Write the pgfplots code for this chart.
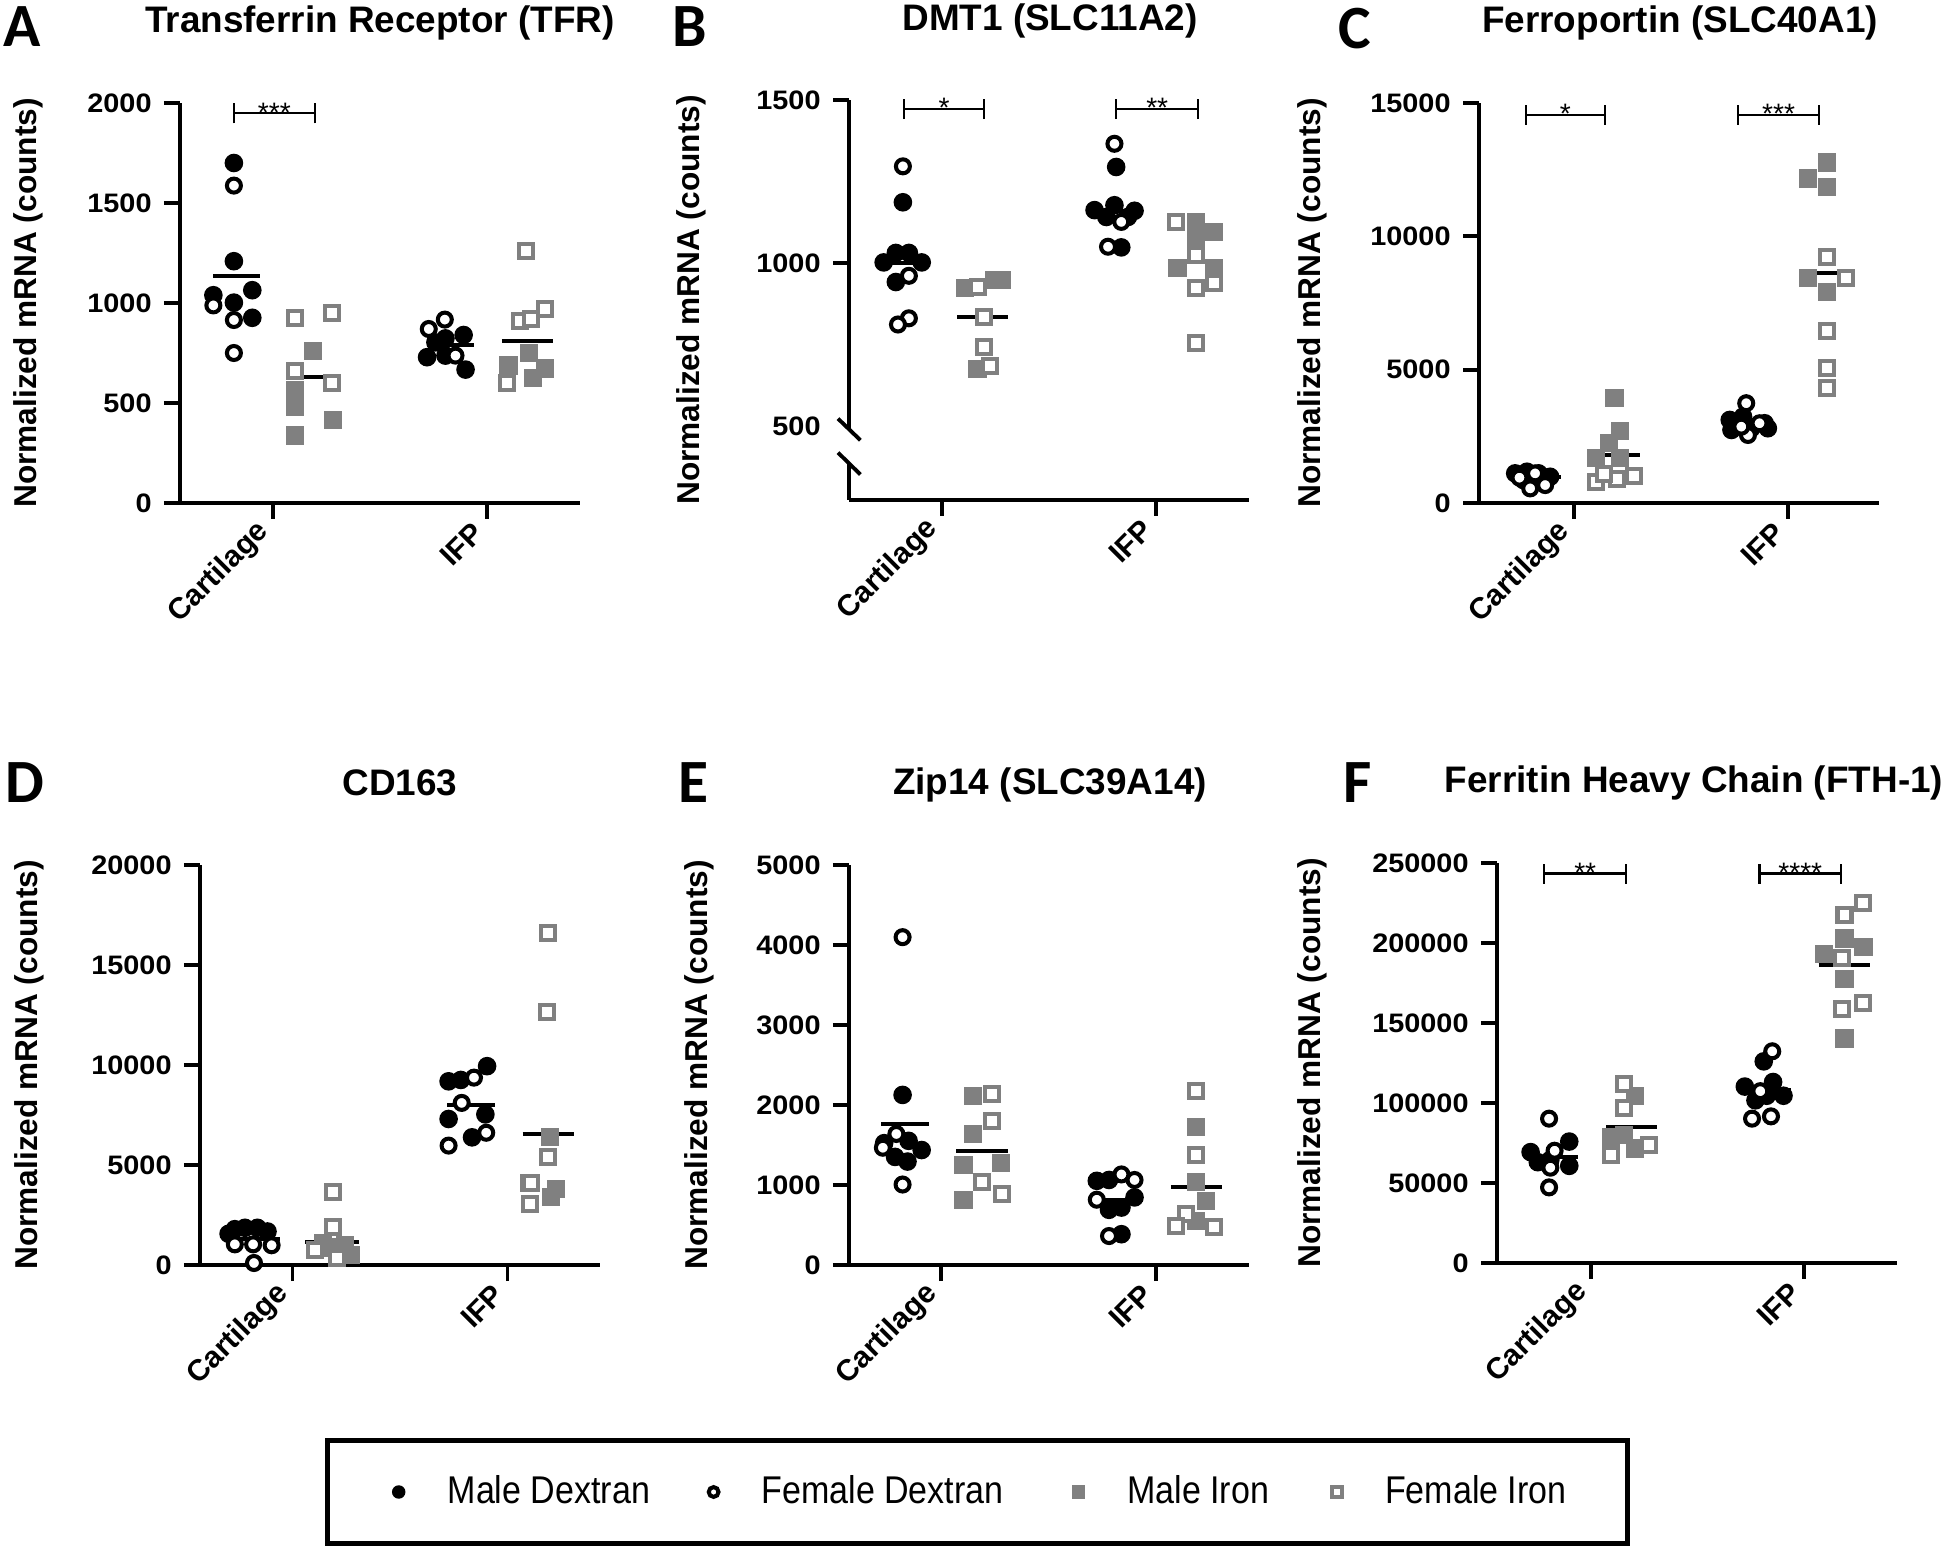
\documentclass[border=0pt]{standalone}
\usepackage{fontspec}
\setmainfont{Liberation Sans}
\newfontfamily\letterfont{Carlito}
\newfontfamily\legfont{Liberation Sans}[FakeStretch=0.88]
\newfontfamily\tickfont{Liberation Sans}[FakeStretch=1.08]
\usepackage{pgfplots}
\pgfplotsset{compat=1.18}
\definecolor{irongray}{RGB}{128,128,128}

\pgfplotsset{
  panel/.style={
    scale only axis, width=40mm, height=40mm, clip=false,
    axis x line*=bottom, axis y line*=left,
    axis line style={line width=1.1pt, black},
    tick style={black, line width=1.1pt},
    major tick length=1.6mm, tick align=outside,
    xtick={1,2}, xticklabels={Cartilage,IFP},
    xticklabel style={rotate=45, anchor=east, font=\bfseries\fontsize{8.5}{10}\selectfont},
    yticklabel style={font=\tickfont\bfseries\fontsize{7.6}{9}\selectfont},
    /pgf/number format/assume math mode=true,
    /pgf/number format/fixed,
    /pgf/number format/precision=0,
    /pgf/number format/1000 sep={},
    scaled y ticks=false,
    ylabel={Normalized mRNA (counts)},
    ylabel style={font=\bfseries\fontsize{9}{11}\selectfont, anchor=center},
  },
  MD/.style={only marks, mark=*, mark size=0.86mm, mark options={draw=black, fill=black, line width=0.4pt}},
  FD/.style={only marks, mark=*, mark size=0.7mm, mark options={draw=black, fill=white, line width=1.15pt}},
  MI/.style={only marks, mark=square*, mark size=0.84mm, mark options={draw=irongray, fill=irongray, line width=0.4pt}},
  FI/.style={only marks, mark=square*, mark size=0.7mm, mark options={draw=irongray, fill=white, line width=1.15pt}},
  mean/.style={black, line width=1.1pt, forget plot, mark=none},
}
\newcommand{\sig}[5]{% x1, x2, xmid, y, label
  \draw[line width=0.6pt] (axis cs:#1,#4) -- (axis cs:#2,#4);
  \draw[line width=0.6pt] ([yshift=-1mm]axis cs:#1,#4) -- ([yshift=1mm]axis cs:#1,#4);
  \draw[line width=0.6pt] ([yshift=-1mm]axis cs:#2,#4) -- ([yshift=1mm]axis cs:#2,#4);
  \node[anchor=base, inner sep=0pt, yshift=-0.86mm, font=\fontsize{8}{9}\selectfont] at (axis cs:#3,#4) {#5};
}

\begin{document}
\begin{tikzpicture}
\useasboundingbox (0,0) rectangle (195mm,155.5mm);

% ---------------- A ----------------
\begin{axis}[panel, at={(18.0mm,105.2mm)}, anchor=south west,
  xmin=0.565, xmax=2.435, ymin=0, ymax=2000, ytick={0,500,1000,1500,2000},
  ylabel style={at={(axis description cs:-0.378,0.5)}}]
\addplot[MD] coordinates {(0.817,1700) (0.817,1209) (0.721,1039) (0.817,1002) (0.903,1064) (0.903,926)
  (1.759,803) (1.806,823) (1.891,840) (1.720,729) (1.806,737) (1.900,667)};
\addplot[FD] coordinates {(0.817,1587) (0.721,988) (0.817,915) (0.817,750)
  (1.728,870) (1.803,917) (1.853,737)};
\addplot[MI] coordinates {(1.185,760) (1.103,564) (1.103,481) (1.103,337) (1.281,415)
  (2.101,688) (2.197,750) (2.273,673) (2.216,626)};
\addplot[FI] coordinates {(1.103,925) (1.276,952) (1.103,661) (1.276,601)
  (2.183,1260) (2.273,971) (2.153,909) (2.206,919) (2.095,599)};
\addplot[mean] coordinates {(0.72,1134) (0.94,1134)};
\addplot[mean] coordinates {(1.07,630) (1.31,630)};
\addplot[mean] coordinates {(1.72,791) (1.94,791)};
\addplot[mean] coordinates {(2.07,812) (2.31,812)};
\sig{0.817}{1.195}{1.006}{1948}{***}
\end{axis}

% ---------------- B ----------------
\begin{axis}[panel, at={(84.9mm,105.5mm)}, anchor=south west,
  xmin=0.565, xmax=2.435, ymin=276, ymax=1500, ytick={1000,1500},
  extra y ticks={500}, extra y tick style={major tick style={draw=none}},
  ylabel style={at={(axis description cs:-0.395,0.5)}}]
\addplot[MD] coordinates {(0.817,1187) (0.727,1003) (0.784,1032) (0.845,1032) (0.905,1003) (0.784,943)
  (1.814,1295) (1.713,1163) (1.806,1178) (1.900,1161) (1.768,1142) (1.869,1142) (1.838,1049)};
\addplot[FD] coordinates {(0.817,1297) (0.845,962) (0.845,832) (0.794,813)
  (1.806,1366) (1.838,1127) (1.776,1051)};
\addplot[MI] coordinates {(1.109,924) (1.242,949) (1.281,949) (1.166,677)
  (2.187,1127) (2.273,1095) (2.187,1072) (2.101,987) (2.273,987)};
\addplot[FI] coordinates {(1.166,928) (1.195,835) (1.195,743) (1.223,687)
  (2.092,1127) (2.187,1025) (2.187,924) (2.273,939) (2.187,757)};
\addplot[mean] coordinates {(0.72,1000) (0.94,1000)};
\addplot[mean] coordinates {(1.07,835) (1.31,835)};
\addplot[mean] coordinates {(1.72,1160) (1.94,1160)};
\addplot[mean] coordinates {(2.07,1004) (2.31,1004)};
\sig{0.823}{1.195}{1.009}{1472}{*}
\sig{1.815}{2.197}{2.006}{1472}{**}
\draw[white, line width=3pt] (axis cs:0.565,491) -- (axis cs:0.565,386);
\draw[black, line width=1.1pt] ([xshift=-1.1mm]axis cs:0.565,525) -- ([xshift=1.14mm]axis cs:0.565,459);
\draw[black, line width=1.1pt] ([xshift=-1.1mm]axis cs:0.565,421) -- ([xshift=1.14mm]axis cs:0.565,354);
\end{axis}

% ---------------- C ----------------
\begin{axis}[panel, at={(147.9mm,105.2mm)}, anchor=south west,
  xmin=0.556, xmax=2.424, ymin=0, ymax=15000, ytick={0,5000,10000,15000},
  ylabel style={at={(axis description cs:-0.4175,0.5)}}]
\addplot[MD] coordinates {(0.725,1111) (0.780,1172) (0.834,1111) (0.888,984) (0.764,860)
  (1.727,3114) (1.789,3239) (1.890,2990) (1.735,2739) (1.828,2803) (1.905,2803)};
\addplot[FD] coordinates {(0.795,548) (0.865,672) (0.818,1111) (0.745,950)
  (1.804,3742) (1.812,2551) (1.866,2990) (1.781,2863)};
\addplot[MI] coordinates {(1.189,3941) (1.214,2695) (1.163,2259) (1.101,1682) (1.214,1682)
  (2.181,12772) (2.093,12165) (2.181,11838) (2.093,8427) (2.181,7913)};
\addplot[FI] coordinates {(1.101,794) (1.202,903) (1.280,1012) (1.140,1100)
  (2.181,9237) (2.268,8427) (2.181,6433) (2.181,5062) (2.181,4330)};
\addplot[mean] coordinates {(0.72,990) (0.94,990)};
\addplot[mean] coordinates {(1.10,1791) (1.31,1791)};
\addplot[mean] coordinates {(1.72,2928) (1.94,2928)};
\addplot[mean] coordinates {(2.07,8614) (2.30,8614)};
\sig{0.774}{1.144}{0.959}{14564}{*}
\sig{1.767}{2.142}{1.955}{14564}{***}
\end{axis}

% ---------------- D ----------------
\begin{axis}[panel, at={(20.0mm,29.0mm)}, anchor=south west,
  xmin=0.570, xmax=2.430, ymin=0, ymax=20000, ytick={0,5000,10000,15000,20000},
  ylabel style={at={(axis description cs:-0.4275,0.5)}}]
\addplot[MD] coordinates {(0.732,1791) (0.779,1860) (0.837,1860) (0.884,1676) (0.703,1561)
  (1.726,9184) (1.783,9253) (1.905,9942) (1.726,7301) (1.897,7531) (1.835,6383)};
\addplot[FD] coordinates {(0.732,1033) (0.817,1033) (0.903,987) (0.821,100)
  (1.844,9368) (1.787,8105) (1.726,5970) (1.901,6613)};
\addplot[MI] coordinates {(1.141,1102) (1.188,872) (1.245,987) (1.274,482)
  (2.196,6383) (2.101,4087) (2.224,3788) (2.202,3398)};
\addplot[FI] coordinates {(1.188,3628) (1.188,1906) (1.103,758) (1.207,344)
  (2.186,16600) (2.183,12651) (2.186,5396) (2.110,4087) (2.106,3054)};
\addplot[mean] coordinates {(0.72,1320) (0.94,1320)};
\addplot[mean] coordinates {(1.06,1171) (1.31,1171)};
\addplot[mean] coordinates {(1.72,7990) (1.94,7990)};
\addplot[mean] coordinates {(2.07,6567) (2.31,6567)};
\end{axis}

% ---------------- E ----------------
\begin{axis}[panel, at={(84.9mm,29.0mm)}, anchor=south west,
  xmin=0.569, xmax=2.435, ymin=0, ymax=5000, ytick={0,1000,2000,3000,4000,5000},
  ylabel style={at={(axis description cs:-0.375,0.5)}},
  legend columns=4,
  legend image code/.code={\draw[#1, every mark/.append style={scale=0.7}] plot coordinates {(0mm,0mm)};},
  legend style={at={(axis description cs:0.321,-0.5675)}, anchor=center,
    draw=black, line width=1.4pt, fill=white,
    inner xsep=6.5mm, inner ysep=3.5mm,
    nodes={inner sep=0pt, font=\legfont\fontsize{11}{13}\selectfont},
    /tikz/every odd column/.append style={column sep=4.3mm},
    /tikz/every even column/.append style={column sep=0mm}},
  legend cell align=left]
\addplot[MD] coordinates {(0.819,2126) (0.733,1523) (0.847,1552) (0.908,1437) (0.784,1351) (0.842,1293)
  (1.725,1052) (1.782,1063) (1.901,845) (1.782,690) (1.840,718) (1.840,385)};
\addlegendentry{\makebox[26.1mm][l]{Male Dextran}}
\addplot[FD] coordinates {(0.819,4098) (0.790,1638) (0.727,1466) (0.819,1006)
  (1.840,1132) (1.901,1063) (1.725,816) (1.782,362)};
\addlegendentry{\makebox[31.1mm][l]{Female Dextran}}
\addplot[MI] coordinates {(1.147,2109) (1.147,1638) (1.277,1276) (1.103,1247) (1.103,816)
  (2.187,1724) (2.187,1034) (2.235,805) (2.187,546)};
\addlegendentry{\makebox[20.5mm][l]{Male Iron}}
\addplot[FI] coordinates {(1.237,2138) (1.237,1799) (1.191,1034) (1.281,891)
  (2.187,2172) (2.187,1379) (2.139,632) (2.095,489) (2.273,477)};
\addlegendentry{\makebox[17.7mm][l]{Female Iron}}
\addplot[mean] coordinates {(0.72,1764) (0.94,1764)};
\addplot[mean] coordinates {(1.07,1425) (1.31,1425)};
\addplot[mean] coordinates {(1.72,816) (1.94,816)};
\addplot[mean] coordinates {(2.07,977) (2.31,977)};
\end{axis}

% ---------------- F ----------------
\begin{axis}[panel, at={(149.7mm,29.2mm)}, anchor=south west,
  xmin=0.557, xmax=2.439, ymin=0, ymax=250000, ytick={0,50000,100000,150000,200000,250000},
  ylabel style={at={(axis description cs:-0.4625,0.5)}}]
\addplot[MD] coordinates {(0.715,69309) (0.897,75896) (0.749,63008) (0.897,60718) (0.808,64440)
  (1.812,126016) (1.723,110264) (1.856,113128) (1.773,101672) (1.905,104536) (1.826,104536)};
\addplot[FD] coordinates {(0.802,90216) (0.828,70168) (0.808,59571) (0.802,47256)
  (1.852,132317) (1.757,90216) (1.846,91648) (1.796,107400)};
\addplot[MI] coordinates {(1.208,104536) (1.095,78760) (1.154,80192) (1.208,71600)
  (2.192,202771) (2.281,197616) (2.097,193320) (2.192,177568) (2.192,140336)};
\addplot[FI] coordinates {(1.154,111696) (1.154,96803) (1.095,67304) (1.273,73890)
  (2.281,224824) (2.192,217664) (2.182,190456) (2.281,162675) (2.182,158952)};
\addplot[mean] coordinates {(0.72,66445) (0.94,66445)};
\addplot[mean] coordinates {(1.07,85061) (1.31,85061)};
\addplot[mean] coordinates {(1.72,107973) (1.94,107973)};
\addplot[mean] coordinates {(2.07,186160) (2.31,186160)};
\sig{0.779}{1.164}{0.972}{243440}{**}
\sig{1.792}{2.176}{1.984}{243440}{****}
\end{axis}

% titles and panel letters
\begin{scope}[every node/.style={font=\bfseries\fontsize{10.5}{12}\selectfont, anchor=center}]
\node at (38.0mm,153.2mm) {Transferrin Receptor (TFR)};
\node at (105.0mm,153.4mm) {DMT1 (SLC11A2)};
\node at (168.0mm,153.2mm) {Ferroportin (SLC40A1)};
\node at (40.0mm,77.2mm) {CD163};
\node at (105.0mm,77.0mm) {Zip14 (SLC39A14)};
\node at (169.4mm,77.2mm) {Ferritin Heavy Chain (FTH-1)};
\end{scope}
\begin{scope}[every node/.style={font=\letterfont\bfseries\fontsize{17.5}{20}\selectfont, anchor=center}]
\node at (2.2mm,152.8mm) {A};
\node at (69.0mm,152.8mm) {B};
\node at (135.5mm,152.6mm) {C};
\node at (2.5mm,77.2mm) {D};
\node at (69.3mm,77.2mm) {E};
\node at (135.8mm,77.2mm) {F};
\end{scope}
\end{tikzpicture}
\end{document}
